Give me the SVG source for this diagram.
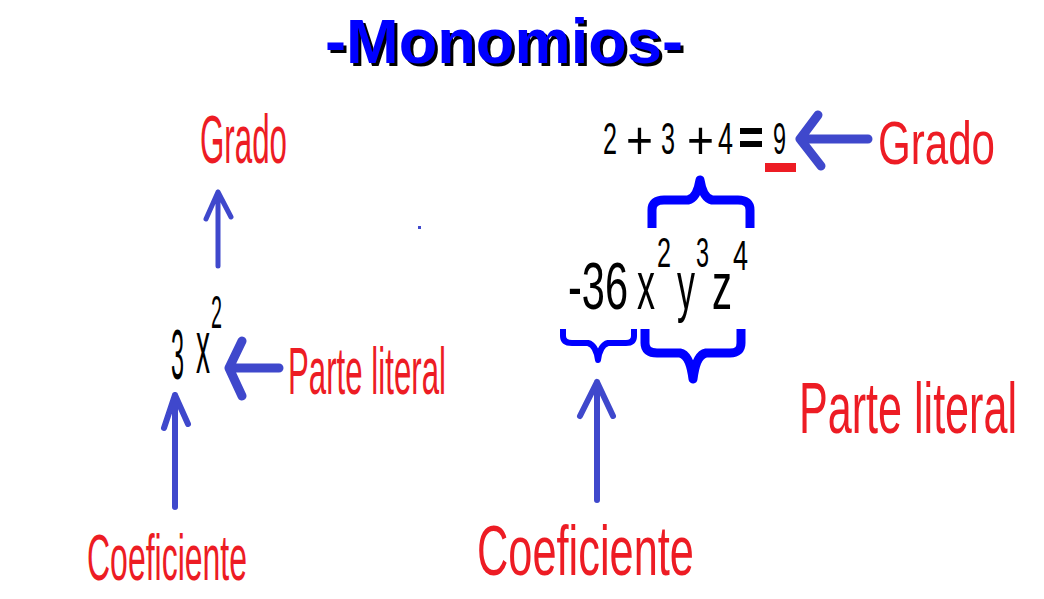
<svg xmlns="http://www.w3.org/2000/svg" width="1044" height="599" viewBox="0 0 1044 599">
<style>
.t{font-family:"Liberation Sans",Arial,sans-serif;}
.red{fill:#ed1c24;}
.blk{fill:#000;}
.arr{fill:none;stroke:#3f48cc;stroke-linecap:round;stroke-linejoin:round;}
.br{fill:none;stroke:#0000ff;stroke-linecap:butt;stroke-linejoin:round;}
</style>
<rect width="1044" height="599" fill="#fff"/>
<g id="title">
<text class="t" x="328" y="66" font-size="63" font-weight="bold" fill="#000" textLength="358" lengthAdjust="spacingAndGlyphs">-Monomios-</text>
<text class="t" x="325" y="63" font-size="63" font-weight="bold" fill="#0000ff" textLength="358" lengthAdjust="spacingAndGlyphs">-Monomios-</text>
</g>
<g id="left-grado"><text class="t red" x="200" y="163" font-size="68" textLength="87" lengthAdjust="spacingAndGlyphs">Grado</text></g>
<g id="left-monomio">
<text class="t blk" x="171" y="379" font-size="71" textLength="13" lengthAdjust="spacingAndGlyphs">3</text>
<text class="t blk" x="196" y="373" font-size="76" textLength="14" lengthAdjust="spacingAndGlyphs">x</text>
<text class="t blk" x="211" y="328" font-size="46" textLength="11" lengthAdjust="spacingAndGlyphs">2</text>
</g>
<g id="left-parte"><text class="t red" x="288" y="394" font-size="67" textLength="158" lengthAdjust="spacingAndGlyphs">Parte literal</text></g>
<g id="left-coef"><text class="t red" x="87" y="580" font-size="65" textLength="160" lengthAdjust="spacingAndGlyphs">Coeficiente</text></g>
<g id="right-suma">
<text class="t blk" x="603" y="154" font-size="45" textLength="14" lengthAdjust="spacingAndGlyphs">2</text>
<text class="t blk" x="626" y="159" font-size="54" textLength="27" lengthAdjust="spacingAndGlyphs">+</text>
<text class="t blk" x="661" y="154" font-size="45" textLength="14" lengthAdjust="spacingAndGlyphs">3</text>
<text class="t blk" x="687" y="159" font-size="54" textLength="27" lengthAdjust="spacingAndGlyphs">+</text>
<text class="t blk" x="718" y="154" font-size="45" textLength="15" lengthAdjust="spacingAndGlyphs">4</text>
<rect x="740" y="128" width="22" height="6" fill="#000"/>
<rect x="740" y="141" width="22" height="6" fill="#000"/>
<text class="t blk" x="773" y="154" font-size="45" textLength="13" lengthAdjust="spacingAndGlyphs">9</text>
<rect x="765" y="163" width="31" height="9" fill="#ed1c24"/>
</g>
<g id="right-grado"><text class="t red" x="878" y="164" font-size="62" textLength="117" lengthAdjust="spacingAndGlyphs">Grado</text></g>
<g id="right-monomio">
<text class="t blk" x="568" y="309" font-size="66" textLength="60" lengthAdjust="spacingAndGlyphs">-36</text>
<text class="t blk" x="637" y="309" font-size="69" textLength="18" lengthAdjust="spacingAndGlyphs">x</text>
<text class="t blk" x="677" y="309" font-size="69" textLength="18" lengthAdjust="spacingAndGlyphs">y</text>
<text class="t blk" x="712" y="309" font-size="66" textLength="20" lengthAdjust="spacingAndGlyphs">z</text>
<text class="t blk" x="657" y="267" font-size="42" textLength="14" lengthAdjust="spacingAndGlyphs">2</text>
<text class="t blk" x="696" y="267" font-size="42" textLength="13" lengthAdjust="spacingAndGlyphs">3</text>
<text class="t blk" x="733" y="270" font-size="42" textLength="15" lengthAdjust="spacingAndGlyphs">4</text>
</g>
<g id="right-parte"><text class="t red" x="799" y="433" font-size="73" textLength="218" lengthAdjust="spacingAndGlyphs">Parte literal</text></g>
<g id="right-coef"><text class="t red" x="477" y="575" font-size="70" textLength="217" lengthAdjust="spacingAndGlyphs">Coeficiente</text></g>
<g id="braces">
<path class="br" stroke-width="9" d="M652,228 L652,210 Q652,200 664,200 L688,200 Q697,198 700,180 Q703,198 712,200 L738,200 Q750,200 750,210 L750,228"/>
<path class="br" stroke-width="6" d="M563,329 L563,336 Q563,343 572,343 L588,343 Q596,345 598,360 Q600,345 608,343 L626,343 Q634,343 634,336 L634,329"/>
<path class="br" stroke-width="9" d="M645,329 L645,343 Q645,353 657,353 L680,353 Q690,355 693,379 Q696,355 706,353 L730,353 Q741,353 741,343 L741,329"/>
</g>
<g id="connectors">
<path class="arr" stroke-width="5" d="M218,266 L218,192 M206,219 L218,192 L231,217"/>
<path class="arr" stroke-width="9" d="M279,368 L229,368 M242,341 L229,368 L242,396"/>
<path class="arr" stroke-width="6" d="M175,507 L175,395 M164,428 L175,395 L188,424"/>
<path class="arr" stroke-width="9" d="M868,139 L800,139 M818,115 L800,139 L821,166"/>
<path class="arr" stroke-width="6" d="M597,500 L597,382 M580,416 L597,382 L613,416"/>
</g>
<rect x="418" y="226" width="3" height="3" fill="#3f48cc"/>
</svg>
